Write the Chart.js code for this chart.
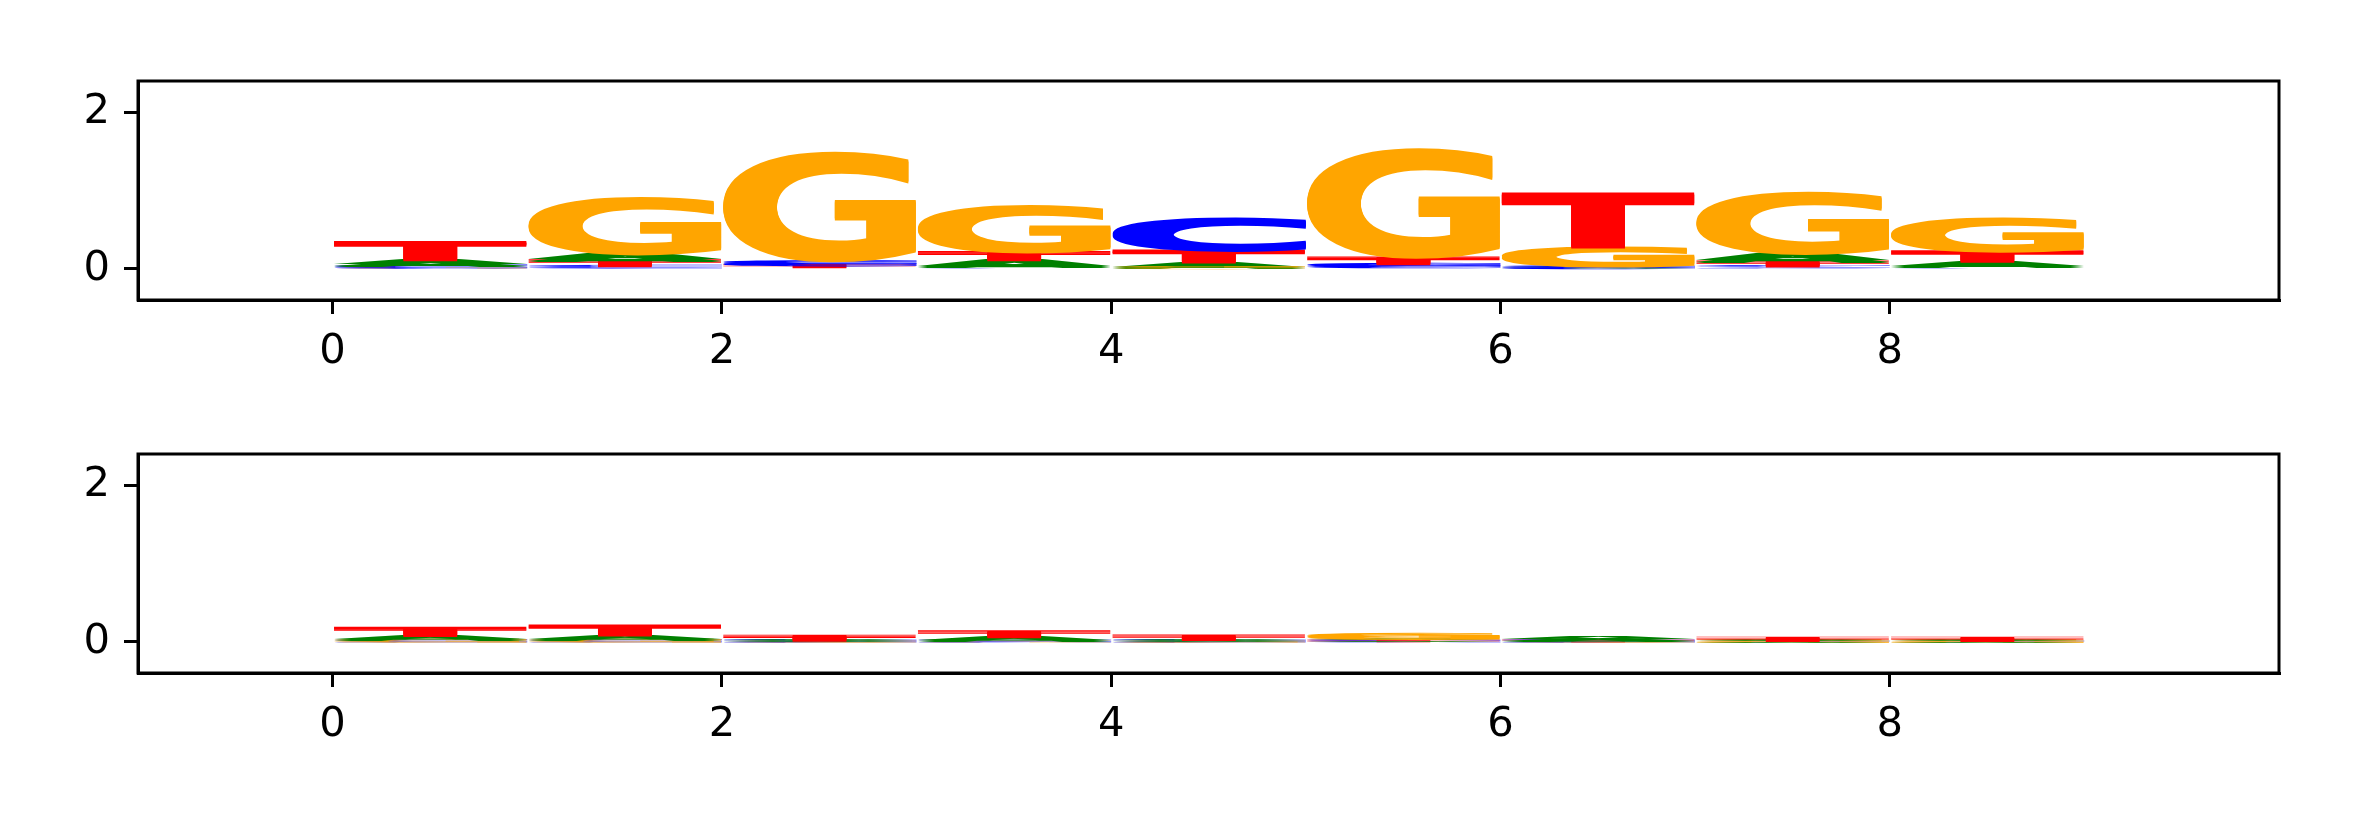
<!DOCTYPE html>
<html>
<head>
<meta charset="utf-8">
<script src="https://cdn.jsdelivr.net/npm/chart.js@4/dist/chart.umd.min.js"></script>
<style>
  html, body { margin: 0; padding: 0; background: #fff; }
  #wrap { position: relative; width: 2362px; height: 826px; }
  .panel { position: absolute; left: 0; width: 2362px; height: 413px; }
</style>
</head>
<body>
<div id="wrap">
  <div class="panel" style="top:0"><canvas id="logoTop" width="2362" height="413"></canvas></div>
  <div class="panel" style="top:413px"><canvas id="logoBottom" width="2362" height="413"></canvas></div>
</div>
<script>
// positions along the motif
const positions = [0, 1, 2, 3, 4, 5, 6, 7, 8];
const letters = ['A', 'C', 'G', 'T'];
const letterColors = ['green', 'blue', 'orange', 'red'];

// letter heights (bits), top logo
const topA = [0.07, 0.08, 0.02, 0.09, 0.07, 0.02, 0.01, 0.10, 0.07];
const topC = [0.025, 0.035, 0.05, 0.02, 0.41, 0.04, 0.02, 0.03, 0.02];
const topG = [0.015, 0.72, 1.39, 0.59, 0.01, 1.39, 0.24, 0.78, 0.42];
const topT = [0.23, 0.07, 0.025, 0.10, 0.15, 0.08, 0.69, 0.06, 0.13];

// letter heights (bits), bottom logo
const bottomA = [0.05, 0.055, 0.008, 0.05, 0.015, 0.02, 0.035, 0.008, 0.008];
const bottomC = [0.005, 0.005, 0.003, 0.004, 0.003, 0.008, 0.003, 0.004, 0.004];
const bottomG = [0.02, 0.02, 0.004, 0.006, 0.005, 0.06, 0.004, 0.001, 0.001];
const bottomT = [0.10, 0.125, 0.06, 0.07, 0.055, 0.01, 0.008, 0.035, 0.035];

const xTickValues = [0, 2, 4, 6, 8];
const yTickValues = [0, 2];

// smallest letter at the bottom of each column
function stackLetters(heights) {
    const out = letters.map(() => []);
    positions.forEach((p, i) => {
        const order = letters.map((_, li) => li).sort((a, b) => heights[a][i] - heights[b][i]);
        let base = 0;
        order.forEach(li => {
            const h = heights[li][i];
            out[li].push({ x: p + 0.5, y: [base, base + h] });
            base += h;
        });
    });
    return out;
}

function drawGlyph(ctx, ch, color, x, y, w, h) {
    if (h <= 0 || w <= 0) return;
    ctx.save();
    ctx.font = 'bold 200px "DejaVu Sans"';
    ctx.textAlign = 'left';
    ctx.textBaseline = 'alphabetic';
    const m = ctx.measureText(ch);
    const gw = m.actualBoundingBoxLeft + m.actualBoundingBoxRight;
    const gh = m.actualBoundingBoxAscent + m.actualBoundingBoxDescent;
    ctx.fillStyle = color;
    // a little vertical spread so squashed letters stay visible
    [-1.2, 0, 1.2].forEach(dy => {
        ctx.save();
        ctx.translate(x, y + dy);
        ctx.scale(w / gw, h / gh);
        ctx.fillText(ch, m.actualBoundingBoxLeft, m.actualBoundingBoxAscent);
        ctx.restore();
    });
    ctx.restore();
}

const glyphPlugin = {
    id: 'glyphs',
    afterDatasetsDraw(chart) {
        const ctx = chart.ctx;
        const items = [];
        chart.data.datasets.forEach((ds, di) => {
            const meta = chart.getDatasetMeta(di);
            meta.data.forEach(bar => {
                const p = bar.getProps(['x', 'y', 'base', 'width'], true);
                items.push({
                    ch: ds.label, color: ds.glyphColor, x: p.x - p.width / 2, w: p.width,
                    top: Math.min(p.y, p.base), bottom: Math.max(p.y, p.base)
                });
            });
        });
        // draw each column from the bottom up
        items.sort((a, b) => b.bottom - a.bottom);
        items.forEach(g => drawGlyph(ctx, g.ch, g.color, g.x, g.top, g.w, g.bottom - g.top));
    },
    afterDraw(chart) {
        const a = chart.chartArea;
        const ctx = chart.ctx;
        ctx.save();
        ctx.strokeStyle = '#000';
        ctx.lineWidth = 3;
        ctx.strokeRect(a.left, a.top, a.right - a.left, a.bottom - a.top);
        ctx.restore();
    }
};

const tickFont = { family: '"DejaVu Sans"', size: 41.7 };

function makeLogo(canvasId, heights, padTop, xAxisHeight) {
    const stacked = stackLetters(heights);
    const datasets = letters.map((l, li) => ({
        label: l,
        data: stacked[li],
        glyphColor: letterColors[li],
        backgroundColor: 'rgba(0,0,0,0)',
        borderWidth: 0,
        grouped: false,
        barPercentage: 1,
        categoryPercentage: 1
    }));

    new Chart(document.getElementById(canvasId), {
        type: 'bar',
        data: { datasets: datasets },
        options: {
            responsive: false,
            animation: false,
            devicePixelRatio: 1,
            layout: { padding: { top: padTop, right: 83, left: 0, bottom: 0 } },
            plugins: { legend: { display: false }, tooltip: { enabled: false } },
            scales: {
                x: {
                    type: 'linear',
                    position: 'bottom',
                    min: -1,
                    max: 10,
                    offset: false,
                    afterBuildTicks: axis => { axis.ticks = xTickValues.map(v => ({ value: v })); },
                    afterFit: axis => { axis.height = xAxisHeight; },
                    grid: { offset: false, drawOnChartArea: false, drawTicks: true, tickLength: 14, color: '#000', lineWidth: 3 },
                    border: { display: true, color: '#000', width: 3 },
                    ticks: { color: '#000', font: tickFont, padding: 13, maxRotation: 0, autoSkip: false }
                },
                y: {
                    type: 'linear',
                    min: -0.4,
                    max: 2.4,
                    afterBuildTicks: axis => { axis.ticks = yTickValues.map(v => ({ value: v })); },
                    afterFit: axis => { axis.width = 138; },
                    grid: { drawOnChartArea: false, drawTicks: true, tickLength: 14, color: '#000', lineWidth: 3 },
                    border: { display: true, color: '#000', width: 3 },
                    ticks: { color: '#000', font: tickFont, padding: 14 }
                }
            }
        },
        plugins: [glyphPlugin]
    });
}

makeLogo('logoTop', [topA, topC, topG, topT], 81, 113);
makeLogo('logoBottom', [bottomA, bottomC, bottomG, bottomT], 41, 153);
</script>
</body>
</html>
